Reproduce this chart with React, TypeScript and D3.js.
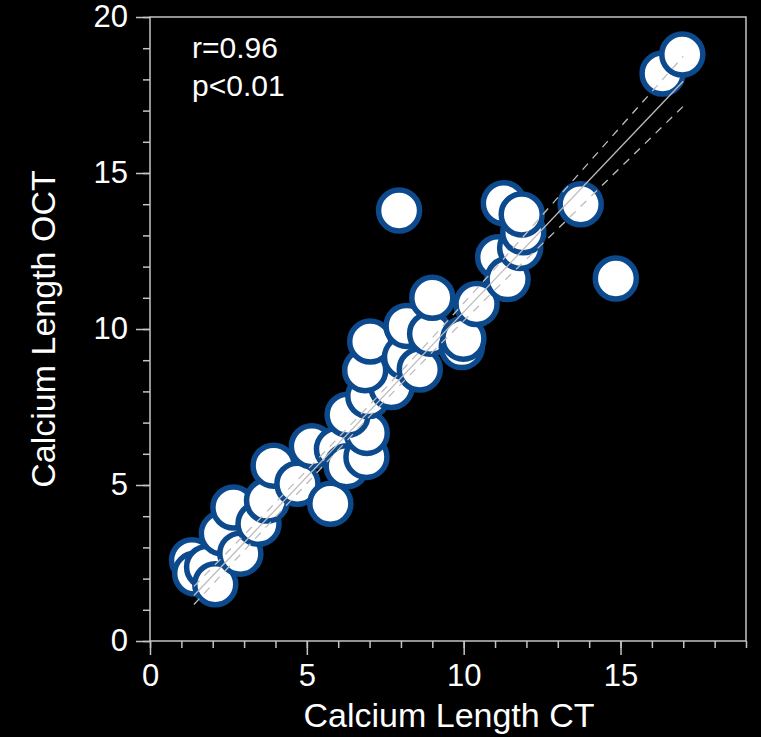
import { useEffect, useRef } from "react";
import { axisBottom, axisLeft, line, range, scaleLinear, select } from "d3";

const ctLength = [
  1.34, 1.44, 1.82, 2.08, 2.29, 2.66, 2.88, 3.46, 3.73, 3.94, 4.7, 5.16, 5.75, 5.96,
  6.27, 6.9, 6.91, 6.3, 6.96, 7.7, 6.86, 7.02, 8.13, 8.6, 8.18, 8.93, 9.0, 9.94, 9.99,
  10.41, 11.1, 11.4, 11.8, 11.9, 11.28, 11.85, 7.94, 13.73, 14.85, 16.34, 16.97
];
const octLength = [
  2.59, 2.16, 2.37, 1.82, 3.45, 4.28, 2.8, 3.76, 4.5, 5.62, 5.04, 6.24, 4.4, 6.15,
  5.6, 5.9, 6.67, 7.25, 7.85, 8.14, 8.68, 9.6, 9.1, 8.7, 10.1, 9.85, 11.0, 9.42, 9.69,
  10.8, 12.3, 11.6, 12.6, 13.1, 14.03, 13.67, 13.8, 14.0, 11.62, 18.19, 18.8
];

// regression line
const fitX = [1.4, 17];
const fitY = [1.46, 17.94];
// dashed band
const bandX = [1.4, 3, 5, 7, 9, 11, 13, 15, 17];
const upperY = [1.75, 3.4, 5.47, 7.56, 9.72, 11.94, 14.21, 16.48, 18.74];
const lowerY = [1.17, 2.9, 5.05, 7.2, 9.26, 11.26, 13.21, 15.18, 17.14];

const xTicks = [0, 5, 10, 15];
const yTicks = [0, 5, 10, 15, 20];
const statLines = ["r=0.96", "p<0.01"];

const W = 761;
const H = 737;
const margin = { left: 150, right: 15, top: 17, bottom: 96 };
const font = "'Liberation Sans', Arial, Helvetica, sans-serif";
const axisColor = "#c4c4c4";
const lineColor = "#bdbdbd";

const App = () => {
  const svgRef = useRef(null);

  useEffect(() => {
    const svg = select(svgRef.current);
    svg.selectAll("*").remove();

    const xScale = scaleLinear().domain([0, 19]).range([margin.left, W - margin.right]);
    const yScale = scaleLinear().domain([0, 20]).range([H - margin.bottom, margin.top]);

    svg.append("rect").attr("width", W).attr("height", H).attr("fill", "#000");

    // frame
    svg.append("rect")
      .attr("x", xScale(0))
      .attr("y", yScale(20))
      .attr("width", xScale(19) - xScale(0))
      .attr("height", yScale(0) - yScale(20))
      .attr("fill", "none")
      .attr("stroke", axisColor)
      .attr("stroke-width", 1.5);

    // minor ticks
    const xMinor = svg.append("g")
      .attr("transform", `translate(0,${yScale(0)})`)
      .call(axisBottom(xScale).tickValues(range(0, 20)).tickSize(7).tickFormat(() => ""));
    const yMinor = svg.append("g")
      .attr("transform", `translate(${xScale(0)},0)`)
      .call(axisLeft(yScale).tickValues(range(0, 21)).tickSize(7).tickFormat(() => ""));

    // major ticks + labels
    const xAxis = svg.append("g")
      .attr("transform", `translate(0,${yScale(0)})`)
      .call(axisBottom(xScale).tickValues(xTicks).tickSize(14).tickPadding(9));
    const yAxis = svg.append("g")
      .attr("transform", `translate(${xScale(0)},0)`)
      .call(axisLeft(yScale).tickValues(yTicks).tickSize(14).tickPadding(8));

    [xMinor, yMinor, xAxis, yAxis].forEach((g) => {
      g.select(".domain").remove();
      g.selectAll("line").attr("stroke", axisColor).attr("stroke-width", 1.5);
      g.selectAll("text")
        .attr("fill", "#fff")
        .style("font-family", font)
        .style("font-size", "31px");
    });

    // points
    svg.append("g")
      .selectAll("circle")
      .data(ctLength.map((x, i) => ({ x, y: octLength[i] })))
      .join("circle")
      .attr("cx", (d) => xScale(d.x))
      .attr("cy", (d) => yScale(d.y))
      .attr("r", 20.5)
      .attr("fill", "#fff")
      .attr("stroke", "#0c4a8d")
      .attr("stroke-width", 5.5);

    // fit line and band drawn on top of the points
    svg.append("path")
      .attr("d", line<number>().x((_, i) => xScale(fitX[i])).y((d) => yScale(d))(fitY))
      .attr("fill", "none")
      .attr("stroke", lineColor)
      .attr("stroke-width", 1.3);

    const bandLine = line<number>()
      .x((_, i) => xScale(bandX[i]))
      .y((d) => yScale(d));

    [upperY, lowerY].forEach((ys) => {
      svg.append("path")
        .attr("d", bandLine(ys))
        .attr("fill", "none")
        .attr("stroke", lineColor)
        .attr("stroke-width", 1.3)
        .attr("stroke-dasharray", "8,7");
    });

    // stats text
    svg.append("g")
      .selectAll("text")
      .data(statLines)
      .join("text")
      .attr("x", 192)
      .attr("y", (_, i) => 58 + i * 38)
      .attr("fill", "#fff")
      .style("font-family", font)
      .style("font-size", "30px")
      .text((d) => d);

    // axis titles
    svg.append("text")
      .attr("x", (xScale(0) + xScale(19)) / 2 + 1)
      .attr("y", 727)
      .attr("text-anchor", "middle")
      .attr("fill", "#fff")
      .style("font-family", font)
      .style("font-size", "34px")
      .text("Calcium Length CT");

    svg.append("text")
      .attr("transform", `translate(55,${(yScale(0) + yScale(20)) / 2}) rotate(-90)`)
      .attr("text-anchor", "middle")
      .attr("fill", "#fff")
      .style("font-family", font)
      .style("font-size", "34px")
      .text("Calcium Length OCT");
  }, []);

  return (
    <svg
      ref={svgRef}
      width={W}
      height={H}
      style={{ position: "absolute", left: 0, top: 0, display: "block", background: "#000" }}
    />
  );
};

export default App;
